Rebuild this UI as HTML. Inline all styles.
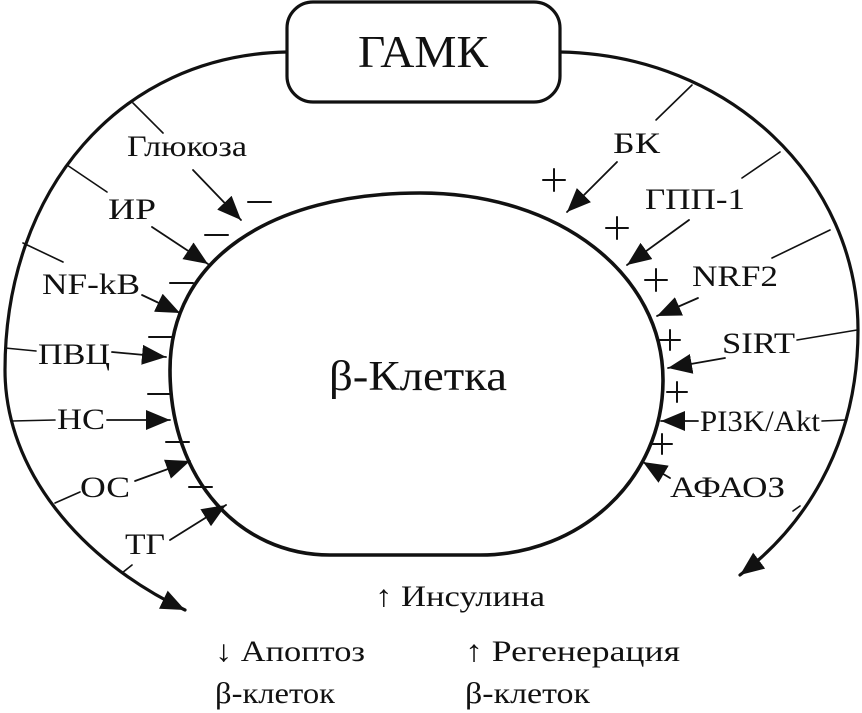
<!DOCTYPE html>
<html><head><meta charset="utf-8"><style>
html,body{margin:0;padding:0;background:#fff;}
svg{display:block;}
text{font-family:"Liberation Serif",serif;fill:#111;}
</style></head><body>
<svg width="862" height="713" viewBox="0 0 862 713" xmlns="http://www.w3.org/2000/svg">
<defs>
<marker id="h" viewBox="0 0 10 10" refX="10" refY="5" markerWidth="24" markerHeight="20" markerUnits="userSpaceOnUse" orient="auto" preserveAspectRatio="none">
<path d="M0,0 L10,5 L0,10 Z" fill="#111"/>
</marker>
</defs>
<g fill="none" stroke="#111" stroke-linecap="round">
<path d="M287,52 C120,55 5,190 5,370 C5,470 80,560 185,610" stroke-width="3.2" marker-end="url(#h)"/>
<path d="M560,52 C730,55 858,180 858,330 C858,450 800,530 740,575" stroke-width="3.2" marker-end="url(#h)"/>
<path d="M420,193 C560,193 663,275 663,380 C663,480 580,555 480,555 L330,555 C240,555 170,480 170,370 C170,260 270,193 420,193 Z" stroke-width="3.6"/>
<g stroke-width="1.6">
<line x1="133" y1="103" x2="163" y2="133"/>
<line x1="67" y1="165" x2="107" y2="192"/>
<line x1="23" y1="243" x2="63" y2="262"/>
<line x1="5" y1="348" x2="36" y2="351"/>
<line x1="12" y1="421" x2="55" y2="420"/>
<line x1="55" y1="503" x2="80" y2="492"/>
<line x1="122" y1="573" x2="132" y2="565"/>
<line x1="692" y1="85" x2="656" y2="120"/>
<line x1="780" y1="152" x2="742" y2="178"/>
<line x1="830" y1="230" x2="772" y2="258"/>
<line x1="857" y1="330" x2="797" y2="340"/>
<line x1="822" y1="421" x2="845" y2="420"/>
<line x1="793" y1="511" x2="800" y2="506"/>
</g>
<g stroke-width="1.8">
<line x1="193" y1="170" x2="241" y2="220" marker-end="url(#h)"/>
<line x1="152" y1="227" x2="208" y2="264" marker-end="url(#h)"/>
<line x1="142" y1="295" x2="180" y2="313" marker-end="url(#h)"/>
<line x1="112" y1="352" x2="166" y2="357" marker-end="url(#h)"/>
<line x1="107" y1="420" x2="170" y2="420" marker-end="url(#h)"/>
<line x1="135" y1="481" x2="190" y2="461" marker-end="url(#h)"/>
<line x1="170" y1="540" x2="226" y2="505" marker-end="url(#h)"/>
<line x1="617" y1="162" x2="567" y2="212" marker-end="url(#h)"/>
<line x1="689" y1="220" x2="627" y2="265" marker-end="url(#h)"/>
<line x1="698" y1="298" x2="657" y2="316" marker-end="url(#h)"/>
<line x1="725" y1="358" x2="668" y2="368" marker-end="url(#h)"/>
<line x1="698" y1="421" x2="661" y2="421" marker-end="url(#h)"/>
<line x1="670" y1="478" x2="643" y2="462" marker-end="url(#h)"/>
</g>
<g stroke-width="2">
<line x1="248" y1="202" x2="271" y2="202"/>
<line x1="205" y1="235" x2="228" y2="235"/>
<line x1="170" y1="283" x2="193" y2="283"/>
<line x1="149" y1="337" x2="172" y2="337"/>
<line x1="148" y1="394" x2="171" y2="394"/>
<line x1="166" y1="442" x2="189" y2="442"/>
<line x1="189" y1="487" x2="212" y2="487"/>
</g>
<g stroke-width="2">
<path d="M543,180 h22 M554,169 v22"/>
<path d="M606,228 h22 M617,217 v22"/>
<path d="M645,280 h22 M656,269 v22"/>
<path d="M660,340 h20 M670,330 v20"/>
<path d="M667,392 h20 M677,382 v20"/>
<path d="M652,444 h20 M662,434 v20"/>
</g>
<rect x="287" y="2" width="273" height="100" rx="26" fill="#fff" stroke-width="3.2"/>
</g>
<text x="423" y="67" font-size="46" text-anchor="middle" textLength="130" lengthAdjust="spacingAndGlyphs">ГАМК</text>
<text x="418" y="390" font-size="42" text-anchor="middle" textLength="178" lengthAdjust="spacingAndGlyphs">β-Клетка</text>
<g font-size="30">
<text x="127" y="156" textLength="120" lengthAdjust="spacingAndGlyphs">Глюкоза</text>
<text x="108" y="219" textLength="48" lengthAdjust="spacingAndGlyphs">ИР</text>
<text x="42" y="294" textLength="98" lengthAdjust="spacingAndGlyphs">NF-kB</text>
<text x="38" y="364" textLength="72" lengthAdjust="spacingAndGlyphs">ПВЦ</text>
<text x="57" y="429" textLength="48" lengthAdjust="spacingAndGlyphs">НС</text>
<text x="80" y="497" textLength="50" lengthAdjust="spacingAndGlyphs">ОС</text>
<text x="125" y="554" textLength="40" lengthAdjust="spacingAndGlyphs">ТГ</text>
<text x="613" y="153" textLength="47" lengthAdjust="spacingAndGlyphs">БК</text>
<text x="645" y="209" textLength="100" lengthAdjust="spacingAndGlyphs">ГПП-1</text>
<text x="692" y="286" textLength="86" lengthAdjust="spacingAndGlyphs">NRF2</text>
<text x="722" y="353" textLength="73" lengthAdjust="spacingAndGlyphs">SIRT</text>
<text x="700" y="431" textLength="120" lengthAdjust="spacingAndGlyphs">PI3K/Akt</text>
<text x="670" y="497" textLength="115" lengthAdjust="spacingAndGlyphs">АФАОЗ</text>
<text x="375" y="606" textLength="170" lengthAdjust="spacingAndGlyphs">↑ Инсулина</text>
<text x="215" y="661" textLength="150" lengthAdjust="spacingAndGlyphs">↓ Апоптоз</text>
<text x="215" y="703" textLength="120" lengthAdjust="spacingAndGlyphs">β-клеток</text>
<text x="465" y="661" textLength="215" lengthAdjust="spacingAndGlyphs">↑ Регенерация</text>
<text x="465" y="703" textLength="125" lengthAdjust="spacingAndGlyphs">β-клеток</text>
</g>
</svg>
</body></html>
